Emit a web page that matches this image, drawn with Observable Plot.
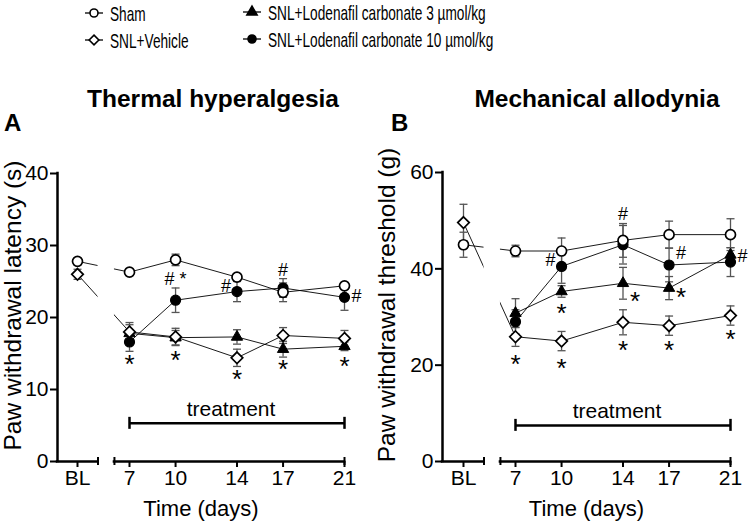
<!DOCTYPE html>
<html><head><meta charset="utf-8">
<script src="https://cdn.jsdelivr.net/npm/d3@7"></script>
<script src="https://cdn.jsdelivr.net/npm/@observablehq/plot@0.6"></script>
<style>
html,body{margin:0;padding:0;background:#fff;}
#root{position:relative;width:750px;height:521px;overflow:hidden;font-family:"Liberation Sans",Arial,sans-serif;color:#000;}
.abs{position:absolute;white-space:nowrap;}
.title{font-weight:bold;font-size:24.5px;line-height:26px;transform:translateX(-50%);}
.letter{font-weight:bold;font-size:24px;line-height:24px;}
.legend-item{position:absolute;height:22px;display:flex;align-items:center;white-space:nowrap;}
.legend-text{font-size:21px;line-height:21px;display:inline-block;transform:scaleX(0.65);transform-origin:left center;margin-left:5px;}
.panel{position:absolute;top:140px;}
</style></head>
<body><div id="root"></div>
<script>
// ---------- data ----------
const groups = ["Sham", "SNL+Vehicle", "SNL+Lodenafil carbonate 3 µmol/kg", "SNL+Lodenafil carbonate 10 µmol/kg"];
const days = [7, 10, 14, 17, 21];
const xTickLabels = ["BL", "7", "10", "14", "17", "21"];
const treatmentDays = [7, 21];

// Thermal hyperalgesia: paw withdrawal latency (s), mean ± SEM
const thermalBaseline = [27.8, 26.0, null, null];
const thermalBaselineSem = [0.3, 0.7, null, null];
const thermalSham = [26.3, 28.0, 25.6, 23.5, 24.4];
const thermalShamSem = [0.3, 0.8, 0.4, 1.3, 0.3];
const thermalVehicle = [18.0, 17.3, 14.4, 17.5, 17.1];
const thermalVehicleSem = [1.3, 1.2, 1.2, 1.1, 1.1];
const thermalLod3 = [17.8, 17.2, 17.3, 15.6, 16.0];
const thermalLod3Sem = [1.2, 1.0, 1.0, 1.1, 0.6];
const thermalLod10 = [16.6, 22.4, 23.6, 24.1, 22.8];
const thermalLod10Sem = [1.3, 1.7, 1.4, 1.3, 1.8];
const thermalYTicks = [0, 10, 20, 30, 40];
const thermalTreatmentLevel = 5.3;
const thermalMarkDay = [7, 10, 10, 14, 14, 17, 17, 21, 21];
const thermalMarkValue = [14.3, 25.3, 14.9, 24.4, 12.2, 26.5, 13.6, 22.9, 14.0];
const thermalMarkText = ["*", "# *", "*", "#", "*", "#", "*", "#", "*"];
const thermalMarkSide = ["below", "above", "below", "left", "below", "above", "below", "right", "below"];

// Mechanical allodynia: paw withdrawal threshold (g), mean ± SEM
const mechBaseline = [45.0, 49.6, null, null];
const mechBaselineSem = [2.6, 3.8, null, null];
const mechSham = [43.7, 43.7, 45.9, 47.1, 47.1];
const mechShamSem = [1.2, 2.7, 3.5, 2.8, 3.3];
const mechVehicle = [25.9, 25.0, 28.9, 28.2, 30.3];
const mechVehicleSem = [2.0, 2.0, 2.6, 2.0, 2.0];
const mechLod3 = [30.8, 35.3, 37.0, 36.0, 42.9];
const mechLod3Sem = [3.0, 1.2, 3.3, 2.4, 1.5];
const mechLod10 = [29.0, 40.5, 45.0, 40.8, 41.4];
const mechLod10Sem = [2.5, 3.5, 4.0, 3.5, 3.0];
const mechYTicks = [0, 20, 40, 60];
const mechTreatmentLevel = 7.5;
const mechMarkDay = [7, 10, 10, 10, 14, 14, 14, 17, 17, 17, 21, 21];
const mechMarkValue = [21.3, 20.6, 41.7, 31.9, 51.4, 34.4, 24.3, 43.3, 35.3, 24.3, 42.6, 26.5];
const mechMarkText = ["*", "*", "#", "*", "#", "*", "*", "#", "*", "*", "#", "*"];
const mechMarkSide = ["below", "below", "left", "below", "above", "right", "below", "right", "right", "below", "right", "below"];

// ---------- layout constants (axis break) ----------
const BLX = 3.614;          // position of the baseline category on the day axis
const leftEnd = 4.95;       // end of the left (BL) axis segment
const rightStart = 6.02;    // start of the right (days) axis segment
const FONT = '"Liberation Sans", Arial, sans-serif';

const root = d3.select("#root");

// ---------- legend ----------
const markerStyle = [
  {symbol: d3.symbolCircle, size: 50, fill: "white"},
  {symbol: d3.symbolDiamond2, size: 60, fill: "white"},
  {symbol: d3.symbolTriangle, size: 45, fill: "black"},
  {symbol: d3.symbolCircle, size: 50, fill: "black"}
];
const legendPos = [[94, 13], [94, 40], [252, 12], [252, 39]];
groups.forEach((g, i) => {
  const item = root.append("div").attr("class", "legend-item")
    .style("left", (legendPos[i][0] - 11) + "px").style("top", (legendPos[i][1] - 11) + "px");
  const sv = item.append("svg").attr("width", 22).attr("height", 22);
  sv.append("line").attr("x1", 2).attr("x2", 20).attr("y1", 11).attr("y2", 11).attr("stroke", "black").attr("stroke-width", 1.3);
  sv.append("path").attr("transform", "translate(11,11)")
    .attr("d", d3.symbol(markerStyle[i].symbol, markerStyle[i].size)())
    .attr("fill", markerStyle[i].fill).attr("stroke", "black").attr("stroke-width", 1.6);
  item.append("span").attr("class", "legend-text").text(g);
});

// ---------- titles ----------
root.append("div").attr("class", "abs title").style("left", "213px").style("top", "86px").text("Thermal hyperalgesia");
root.append("div").attr("class", "abs title").style("left", "597px").style("top", "86px").text("Mechanical allodynia");
root.append("div").attr("class", "abs letter").style("left", "4px").style("top", "111px").text("A");
root.append("div").attr("class", "abs letter").style("left", "391px").style("top", "111px").text("B");

// ---------- panels ----------
const capSymbol = {draw(ctx, size) { const r = Math.sqrt(size / Math.PI); ctx.moveTo(-r, 0); ctx.lineTo(r, 0); }};
const sideDx = {above: 0, below: 0, left: -11, right: 12};

function buildPanel(p) {
  const series = [
    {mean: p.sham, sem: p.shamSem},
    {mean: p.vehicle, sem: p.vehicleSem},
    {mean: p.lod3, sem: p.lod3Sem},
    {mean: p.lod10, sem: p.lod10Sem}
  ];
  const rows = [];
  series.forEach((s, gi) => {
    if (p.baseline[gi] != null) rows.push({group: groups[gi], x: BLX, y: p.baseline[gi], sem: p.baselineSem[gi]});
    s.mean.forEach((v, i) => rows.push({group: groups[gi], x: days[i], y: v, sem: s.sem[i]}));
  });
  const byGroup = (g) => rows.filter(r => r.group === g);
  const yMax = d3.max(p.yTicks);
  const ann = p.markDay.map((d, i) => ({day: d, value: p.markValue[i], text: p.markText[i], side: p.markSide[i]}));
  const annMarks = [];
  for (const side of Object.keys(sideDx)) {
    const stars = ann.filter(a => a.side === side && a.text === "*");
    const others = ann.filter(a => a.side === side && a.text !== "*");
    if (stars.length) annMarks.push(Plot.text(stars, {x: "day", y: "value", text: "text", dx: sideDx[side], dy: -4, lineAnchor: "top", fontSize: 26}));
    if (others.length) annMarks.push(Plot.text(others, {x: "day", y: "value", text: "text", dx: sideDx[side], lineAnchor: "middle", fontSize: 18}));
  }
  const tickLabel = new Map([[BLX, xTickLabels[0]], ...days.map((d, i) => [d, xTickLabels[i + 1]])]);
  const errColor = "#555";
  const chart = Plot.plot({
    width: 375, height: 381,
    marginLeft: p.marginLeft, marginRight: p.marginRight, marginTop: p.marginTop, marginBottom: 60,
    x: {domain: [p.xMin, days[days.length - 1]]},
    y: {domain: [0, yMax]},
    style: {fontFamily: FONT, fontSize: "20px", color: "black", background: "transparent", overflow: "visible"},
    marks: [
      Plot.line(rows, {x: "x", y: "y", z: "group", stroke: "black", strokeWidth: 0.9}),
      Plot.rect([0], {x1: leftEnd, x2: rightStart, y1: 0, y2: yMax, fill: "white"}),
      Plot.ruleX(rows, {x: "x", y1: d => d.y - d.sem, y2: d => d.y + d.sem, stroke: errColor, strokeWidth: 1.3}),
      Plot.dot(rows, {x: "x", y: d => d.y + d.sem, symbol: capSymbol, r: 4, stroke: errColor, strokeWidth: 1.3, fill: "none"}),
      Plot.dot(rows, {x: "x", y: d => d.y - d.sem, symbol: capSymbol, r: 4, stroke: errColor, strokeWidth: 1.3, fill: "none"}),
      Plot.dot(byGroup(groups[3]), {x: "x", y: "y", symbol: "circle", r: 5, fill: "black", stroke: "black", strokeWidth: 1.2}),
      Plot.dot(byGroup(groups[2]), {x: "x", y: "y", symbol: "triangle", r: 4.2, fill: "black", stroke: "black", strokeWidth: 1}),
      Plot.dot(byGroup(groups[1]), {x: "x", y: "y", symbol: "diamond2", r: 5.2, fill: "white", stroke: "black", strokeWidth: 1.7}),
      Plot.dot(byGroup(groups[0]), {x: "x", y: "y", symbol: "circle", r: 5, fill: "white", stroke: "black", strokeWidth: 1.7}),
      // axes
      Plot.ruleX([p.xMin], {y1: 0, y2: yMax, strokeWidth: 2.5, strokeLinecap: "square"}),
      Plot.ruleY([{a: p.xMin, b: leftEnd}, {a: rightStart, b: days[days.length - 1]}], {x1: "a", x2: "b", y: 0, strokeWidth: 2.5, strokeLinecap: "square"}),
      Plot.ruleX([leftEnd, rightStart, days[days.length - 1]], {x: d => d, y1: 0, y2: 0, insetTop: -4, insetBottom: -4, strokeWidth: 2}),
      Plot.axisY({ticks: p.yTicks, tickSize: 7, tickPadding: 2, fontSize: 21, strokeWidth: 2, label: null}),
      Plot.axisX({ticks: [BLX, ...days], tickFormat: d => tickLabel.get(d), tickSize: 6, tickPadding: 3, fontSize: 21, strokeWidth: 2, label: null}),
      Plot.text([p.yLabel], {frameAnchor: "left", textAnchor: "middle", rotate: -90, dx: p.yLabelDx, dy: -12, fontSize: 24.5}),
      Plot.text(["Time (days)"], {frameAnchor: "bottom", lineAnchor: "middle", dy: 47, fontSize: 22}),
      // treatment bracket
      Plot.ruleY([p.treatment], {x1: treatmentDays[0], x2: treatmentDays[1], strokeWidth: 2.5}),
      Plot.ruleX(treatmentDays, {x: d => d, y1: p.treatment, y2: p.treatment, insetTop: -6, insetBottom: -6, strokeWidth: 2.5}),
      Plot.text(["treatment"], {x: (treatmentDays[0] + treatmentDays[1]) / 2, y: p.treatment, dx: -6, dy: -7, lineAnchor: "bottom", fontSize: 21}),
      ...annMarks
    ]
  });
  return chart;
}

const panelA = buildPanel({
  baseline: thermalBaseline, baselineSem: thermalBaselineSem,
  sham: thermalSham, shamSem: thermalShamSem, vehicle: thermalVehicle, vehicleSem: thermalVehicleSem,
  lod3: thermalLod3, lod3Sem: thermalLod3Sem, lod10: thermalLod10, lod10Sem: thermalLod10Sem,
  yTicks: thermalYTicks, treatment: thermalTreatmentLevel,
  markDay: thermalMarkDay, markValue: thermalMarkValue, markText: thermalMarkText, markSide: thermalMarkSide,
  yLabel: "Paw withdrawal latency (s)", yLabelDx: -44,
  marginLeft: 57, marginRight: 31, marginTop: 33, xMin: 2.312
});
const panelB = buildPanel({
  baseline: mechBaseline, baselineSem: mechBaselineSem,
  sham: mechSham, shamSem: mechShamSem, vehicle: mechVehicle, vehicleSem: mechVehicleSem,
  lod3: mechLod3, lod3Sem: mechLod3Sem, lod10: mechLod10, lod10Sem: mechLod10Sem,
  yTicks: mechYTicks, treatment: mechTreatmentLevel,
  markDay: mechMarkDay, markValue: mechMarkValue, markText: mechMarkText, markSide: mechMarkSide,
  yLabel: "Paw withdrawal threshold (g)", yLabelDx: -55,
  marginLeft: 67, marginRight: 20, marginTop: 32, xMin: 2.247
});
root.append("div").attr("class", "panel").style("left", "0px").node().appendChild(panelA);
root.append("div").attr("class", "panel").style("left", "375px").node().appendChild(panelB);
</script>
</body></html>
